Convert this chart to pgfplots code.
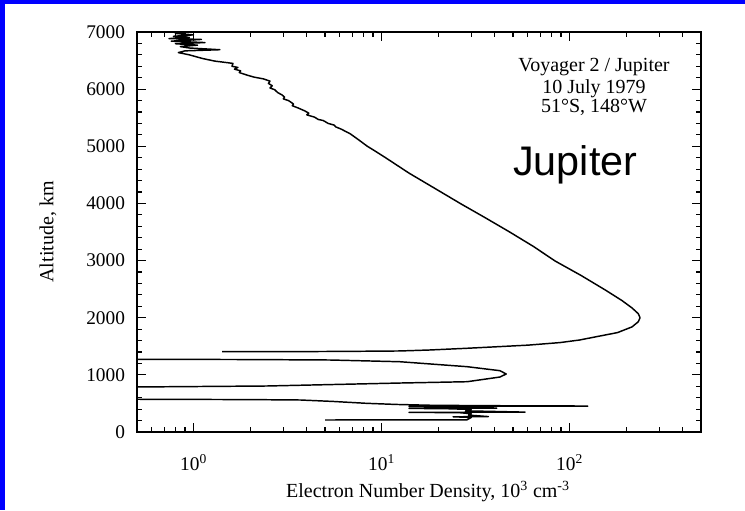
\documentclass[border=0pt]{standalone}
\usepackage{fontspec}
\setmainfont{Liberation Serif}
\newfontfamily\arialf{Liberation Sans}
\usepackage{pgfplots}
\pgfplotsset{compat=1.18}
\begin{document}
\begin{tikzpicture}
\useasboundingbox (0,0) rectangle (558.75pt,382.5pt);
\fill[white] (0,0) rectangle (558.75pt,382.5pt);
\fill[blue] (0,379.5pt) rectangle (558.75pt,382.5pt);
\fill[blue] (0,0) rectangle (3.75pt,382.5pt);
\begin{axis}[
 at={(102.75pt,58.5pt)}, anchor=south west,
 scale only axis, width=423pt, height=300pt,
 xmode=log, xmin=0.5, xmax=500, ymin=0, ymax=7000,
 xtick={1,10,100},
 xticklabels={10\textsuperscript{0},10\textsuperscript{1},10\textsuperscript{2}},
 minor xtick={0.6,0.7,0.8,0.9,2,3,4,5,6,7,8,9,20,30,40,50,60,70,80,90,200,300,400},
 ytick={0,1000,...,7000},
 minor y tick num=4,
 tick align=inside, tick pos=both,
 major tick length=7pt, minor tick length=4pt,
 axis line style={line width=1.1pt},
 every tick/.append style={black, line width=0.9pt},
 /pgf/number format/assume math mode=true,
 /pgf/number format/1000 sep={},
 tick label style={font=\fontsize{14.5}{16}\selectfont},
 xticklabel style={anchor=base, yshift=-28.5pt},
 yticklabel style={xshift=-5.5pt},
 clip=true,
]
\addplot[black, line width=1.1pt, line join=round] table {
x y
0.92 7000
0.80 6975
1.00 6950
0.78 6925
0.95 6905
0.74 6885
1.10 6870
0.76 6840
1.15 6815
0.80 6795
1.05 6770
0.85 6745
0.95 6720
1.38 6690
0.90 6670
0.83 6640
0.95 6600
1.05 6560
1.12 6535
1.30 6490
1.50 6465
1.62 6450
1.60 6400
1.72 6380
1.65 6350
1.78 6320
1.75 6290
1.95 6240
2.10 6210
2.35 6180
2.55 6140
2.50 6100
2.62 6060
2.55 6020
2.70 5990
2.80 5940
2.95 5900
3.05 5860
3.00 5830
3.20 5800
3.40 5740
3.35 5710
3.60 5670
3.90 5620
4.10 5580
4.00 5550
4.40 5510
4.60 5470
4.90 5450
5.20 5400
5.60 5370
5.70 5340
6.10 5300
6.80 5220
7.50 5120
8.40 5000
9.2 4920
10.5 4800
14.0 4530
19.5 4250
26.5 3990
36 3740
48 3500
64 3250
84 2990
115 2740
154 2490
190 2300
215 2170
232 2070
237 2000
232 1930
215 1840
180 1740
140 1670
113 1610
89 1565
60 1520
40 1490
28.4 1465
18 1435
12.5 1418
6 1410
3 1406
1.42 1405
};
\addplot[black, line width=1.1pt, line join=round] table {
x y
0.3 1275
0.5 1272
2 1268
5.3 1260
12.5 1230
28.5 1143
42.6 1073
46 1015
42.6 962
28.5 880
12.5 857
2.45 805
0.5 788
0.3 785
};
\addplot[black, line width=1.1pt, line join=round] table {
x y
0.3 575
0.5 573
2 567
3.7 560
5.5 535
8.3 502
12 482
18.8 467
40 460
113 455
125 453
14 448
20 444
30 438
41 418
14 413
22 408
30 395
28 370
58 348
14 344
26 338
30 320
29 295
37 270
24 266
30 255
28.5 214
5 210
};
\end{axis}
\node[anchor=base, font=\fontsize{15}{15}\selectfont] at (445.5pt,328.7pt) {Voyager 2 / Jupiter};
\node[anchor=base, font=\fontsize{15}{15}\selectfont] at (445.5pt,312.5pt) {10 July 1979};
\node[anchor=base, font=\fontsize{15}{15}\selectfont] at (445.5pt,297.75pt) {51°S, 148°W};
\node[anchor=base west, inner sep=0pt, font=\arialf\fontsize{31}{31}\selectfont] at (384.75pt,250.5pt) {Jupiter};
\node[anchor=base, font=\fontsize{15}{15}\selectfont] at (321pt,9.75pt) {Electron Number Density, 10\textsuperscript{3} cm\textsuperscript{-3}};
\node[rotate=90, font=\fontsize{15}{15}\selectfont] at (36pt,208.5pt) {Altitude, km};
\end{tikzpicture}
\end{document}
